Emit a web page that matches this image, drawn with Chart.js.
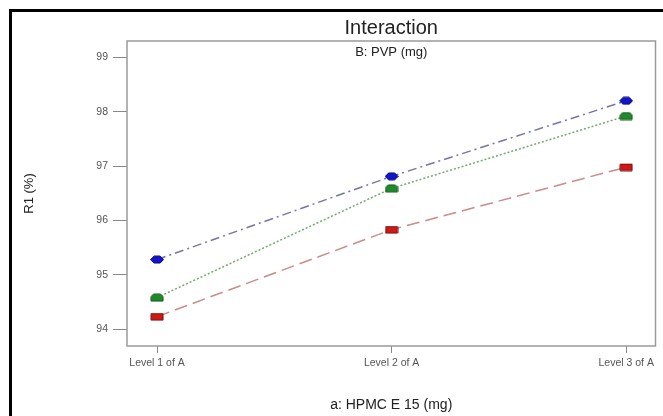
<!DOCTYPE html>
<html>
<head>
<meta charset="utf-8">
<script src="https://cdn.jsdelivr.net/npm/chart.js@4.4.1/dist/chart.umd.min.js"></script>
<style>
  html, body { margin: 0; padding: 0; background: #fff; }
  #wrap { width: 663px; height: 416px; }
</style>
</head>
<body>
<div id="wrap"><canvas id="myChart"></canvas></div>
<script>
//-----------------------------------
// Data
//-----------------------------------
var levels = ["Level 1 of A", "Level 2 of A", "Level 3 of A"]; //x categories
var redValues = [94.23, 95.83, 96.98];   //square markers, long dash
var greenValues = [94.58, 96.59, 97.92]; //green markers, dotted
var blueValues = [95.28, 96.81, 98.20];  //blue markers, dash-dot
var yTicks = [94, 95, 96, 97, 98, 99];

//---------------------------------------------------------
// little canvases used as point markers
//---------------------------------------------------------
function makeMarker(kind, fill, stroke) {
  var c = document.createElement('canvas');
  c.width = 14;
  c.height = 9;
  var g = c.getContext('2d');
  g.beginPath();
  if (kind == 'hex') {
    g.moveTo(0.5, 4.5); g.lineTo(4, 1); g.lineTo(10, 1);
    g.lineTo(13.5, 4.5); g.lineTo(10, 8); g.lineTo(4, 8);
  } else if (kind == 'house') {
    g.moveTo(1, 8); g.lineTo(1, 3.5); g.lineTo(3.5, 1); g.lineTo(10.5, 1);
    g.lineTo(13, 3.5); g.lineTo(13, 8);
  } else {
    g.rect(1, 1.5, 12, 6.5);
  }
  g.closePath();
  g.fillStyle = fill;
  g.fill();
  g.lineWidth = 1;
  g.strokeStyle = stroke;
  g.stroke();
  return c;
}

function toPoints(values) {
  return values.map(function (v, i) { return { x: i + 1, y: v }; });
}

//draws the outer frame, the plot box and the two headings
var framePlugin = {
  id: 'frame',
  beforeDraw: function (chart) {
    var ctx = chart.ctx;
    ctx.save();
    ctx.fillStyle = '#fff';
    ctx.fillRect(0, 0, chart.width, chart.height);
    ctx.lineWidth = 3;
    ctx.strokeStyle = '#000';
    ctx.strokeRect(10.5, 10.5, 900, 900);
    ctx.restore();
  },
  beforeDatasetsDraw: function (chart) {
    var ctx = chart.ctx;
    var a = chart.chartArea;
    ctx.save();
    ctx.lineWidth = 1.5;
    ctx.strokeStyle = '#9a9a9a';
    ctx.strokeRect(a.left, a.top, a.right - a.left, a.bottom - a.top);
    var cx = (a.left + a.right) / 2;
    ctx.textAlign = 'center';
    ctx.textBaseline = 'middle';
    ctx.fillStyle = '#222';
    ctx.font = '20px "Liberation Sans", Arial, sans-serif';
    ctx.fillText('Interaction', cx, 28);
    ctx.font = '13px "Liberation Sans", Arial, sans-serif';
    ctx.fillText('B: PVP (mg)', cx, 52);
    ctx.restore();
  }
};

function displayGraph() {
  var grapharea = document.getElementById('myChart');

  const data = {
    datasets: [{
      label: 'red',
      data: toPoints(redValues),
      borderColor: '#c88c8c',
      borderWidth: 1.5,
      borderDash: [13, 6],
      pointStyle: makeMarker('rect', '#d01818', '#7a1010'),
      pointRadius: 6
    }, {
      label: 'green',
      data: toPoints(greenValues),
      borderColor: '#72a872',
      borderWidth: 1.5,
      borderDash: [2, 2],
      pointStyle: makeMarker('house', '#1f8a2a', '#145a18'),
      pointRadius: 6
    }, {
      label: 'blue',
      data: toPoints(blueValues),
      borderColor: '#7676a0',
      borderWidth: 1.5,
      borderDash: [9, 4, 2, 4],
      pointStyle: makeMarker('hex', '#1414c8', '#0c0c80'),
      pointRadius: 6
    }]
  };

  const config = {
    type: 'line',
    data: data,
    options: {
      responsive: true,
      maintainAspectRatio: false,
      animation: false,
      layout: { padding: { top: 41, right: 7, left: 0, bottom: 0 } },
      plugins: {
        legend: { display: false },
        tooltip: { enabled: false }
      },
      scales: {
        x: {
          type: 'linear',
          min: 0.872,
          max: 3.125,
          afterBuildTicks: function (scale) {
            scale.ticks = levels.map(function (l, i) { return { value: i + 1 }; });
          },
          afterFit: function (scale) { scale.height = 70; },
          border: { display: false },
          grid: { drawOnChartArea: false, drawTicks: true, tickLength: 7, color: '#888', lineWidth: 1 },
          ticks: {
            autoSkip: false,
            maxRotation: 0,
            padding: 4,
            color: '#555',
            font: { family: '"Liberation Sans", Arial, sans-serif', size: 10.5 },
            callback: function (v) { return levels[v - 1]; }
          },
          title: {
            display: true,
            text: 'a: HPMC E 15 (mg)',
            color: '#222',
            font: { family: '"Liberation Sans", Arial, sans-serif', size: 14 },
            padding: { top: 0, bottom: 2 }
          }
        },
        y: {
          min: 93.69,
          max: 99.3,
          afterBuildTicks: function (scale) {
            scale.ticks = yTicks.map(function (t) { return { value: t }; });
          },
          afterFit: function (scale) { scale.width = 127; },
          border: { display: false },
          grid: { drawOnChartArea: false, drawTicks: true, tickLength: 14, color: '#888', lineWidth: 1 },
          ticks: {
            padding: 5,
            color: '#555',
            font: { family: '"Liberation Sans", Arial, sans-serif', size: 10.5 }
          },
          title: {
            display: true,
            text: 'R1 (%)',
            color: '#222',
            font: { family: '"Liberation Sans", Arial, sans-serif', size: 13 },
            padding: { top: 22, bottom: 0 }
          }
        }
      }
    },
    plugins: [framePlugin]
  };

  const myChart = new Chart(grapharea, config);
}
displayGraph();
</script>
</body>
</html>
